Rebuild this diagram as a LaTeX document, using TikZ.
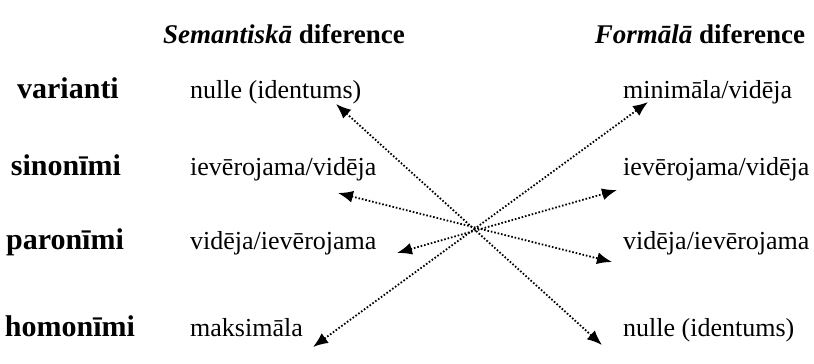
\documentclass[tikz,border=0pt]{standalone}
\usepackage{fontspec}
\setmainfont{Liberation Serif}
\usetikzlibrary{arrows.meta}
\begin{document}
\begin{tikzpicture}[x=1pt,y=-1pt,
  head/.style={anchor=base,inner sep=0pt,font=\fontsize{27}{30}\selectfont\bfseries},
  term/.style={anchor=base,inner sep=0pt,font=\fontsize{30}{34}\selectfont\bfseries},
  val/.style={anchor=base west,inner sep=0pt,font=\fontsize{26}{30}\selectfont},
  link/.style={line width=1.8pt,dash pattern=on 1.6pt off 1.9pt,
    {Latex[length=15pt,width=12pt]}-{Latex[length=15pt,width=12pt]}}]
\useasboundingbox (0,0) rectangle (814,364);

% column headings
\node[head] (hs) at (284,43) {\textit{Semantiskā} diference};
\node[head] (hf) at (700,43) {\textit{Formālā} diference};

% row terms
\node[term] (t1) at (68,98)  {varianti};
\node[term] (t2) at (66,175) {sinonīmi};
\node[term] (t3) at (65,249) {paronīmi};
\node[term] (t4) at (70,336) {homonīmi};

% semantic values
\node[val] (s1) at (190,98)  {nulle (identums)};
\node[val] (s2) at (190,175) {ievērojama/vidēja};
\node[val] (s3) at (190,249) {vidēja/ievērojama};
\node[val] (s4) at (190,336) {maksimāla};

% formal values
\node[val] (f1) at (623,98)  {minimāla/vidēja};
\node[val] (f2) at (623,175) {ievērojama/vidēja};
\node[val] (f3) at (623,249) {vidēja/ievērojama};
\node[val] (f4) at (623,336) {nulle (identums)};

% crossing links between the two columns
\draw[link] ([shift={(146,6)}]s1.base west) -- ([shift={(-21,9)}]f4.base west);
\draw[link] ([shift={(123,11)}]s4.base west) -- ([shift={(25,4)}]f1.base west);
\draw[link] ([shift={(148,18)}]s2.base west) -- ([shift={(-11,13)}]f3.base west);
\draw[link] ([shift={(207,4)}]s3.base west) -- ([shift={(-6,15)}]f2.base west);
\end{tikzpicture}
\end{document}
